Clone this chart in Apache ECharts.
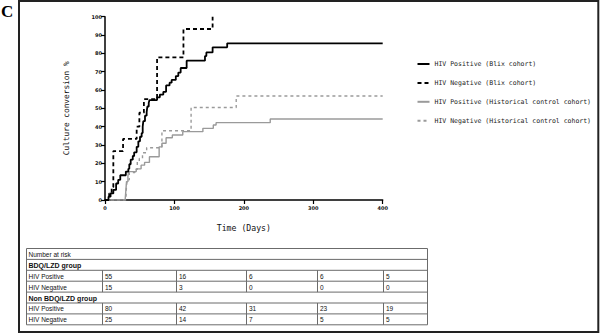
<!DOCTYPE html>
<html>
<head>
<meta charset="utf-8">
<script src="https://cdn.jsdelivr.net/npm/echarts@6/dist/echarts.min.js"></script>
<style>
  html, body { margin: 0; padding: 0; background: #fff; }
  #chart { width: 600px; height: 334px; }
</style>
</head>
<body>
<div id="chart"></div>
<script>
// [time in days, culture conversion %] - step points
const blixPositive = [[0, 0], [5, 1.8], [8, 3.6], [12, 5.5], [16, 9], [19, 11], [22, 13.5], [30, 15.5], [33.6, 17], [35, 19.5], [37, 22], [40, 24], [42, 26], [45.6, 29], [48, 32], [50.4, 34.5], [52.8, 36.5], [54.3, 40], [55.2, 43], [57.6, 46], [60, 48], [61, 51], [63, 53], [64, 54.5], [75, 56], [79, 57.5], [84, 59], [88, 62.5], [93, 64], [96, 65.5], [102, 67.6], [105.6, 69.5], [109, 72], [117.6, 76], [144, 78.5], [146, 80.5], [155, 83.3], [176, 85.5], [400, 85.5]];
const blixNegative = [[0, 0], [6, 3.6], [9.6, 7], [12, 26.7], [26, 33.3], [45.6, 40], [49.5, 47.6], [56, 55], [75, 77.8], [113, 93.3], [155, 100]];
const histPositive = [[0, 0], [29, 0], [30, 5], [31, 10], [33, 13], [34, 15.5], [45, 17], [52, 19], [57, 20.5], [64, 23.6], [78, 29], [82, 31], [88, 34], [97, 35.5], [112, 37.3], [141, 39.1], [156, 40.9], [160, 42.2], [238, 44.2], [400, 44.2]];
const histNegative = [[0, 0], [30, 0], [31, 8], [32, 11], [35, 15], [43, 16.7], [46.5, 21], [49.4, 22.7], [54, 25.8], [60, 28.5], [82, 37.8], [124, 50.5], [189, 56.7], [400, 56.7]];

const seriesNames = ['HIV Positive (Blix cohort)', 'HIV Negative (Blix cohort)', 'HIV Positive (Historical control cohort)', 'HIV Negative (Historical control cohort)'];

// number at risk table
const riskTitle = 'Number at risk';
const riskGroups = ['BDQ/LZD group', 'Non BDQ/LZD group'];
const riskLabels = ['HIV Positive', 'HIV Negative'];
const bdqRisk = [[55, 16, 6, 6, 5], [15, 3, 0, 0, 0]];
const nonBdqRisk = [[80, 42, 31, 23, 19], [25, 14, 7, 5, 5]];

const chart = echarts.init(document.getElementById('chart'), null, { renderer: 'svg' });

// --- table drawn with graphic elements ---
const colX = [26.5, 102.5, 176.5, 246.5, 317.5, 383.5, 427.5];
const rowTop = 248.5;
const rowH = 10.9;
const rows = [
  { kind: 'title', text: riskTitle },
  { kind: 'group', text: riskGroups[0] },
  { kind: 'cells', label: riskLabels[0], vals: bdqRisk[0] },
  { kind: 'cells', label: riskLabels[1], vals: bdqRisk[1] },
  { kind: 'group', text: riskGroups[1] },
  { kind: 'cells', label: riskLabels[0], vals: nonBdqRisk[0] },
  { kind: 'cells', label: riskLabels[1], vals: nonBdqRisk[1] }
];
const lineStyle = { stroke: '#6b6b6b', lineWidth: 1 };
const tableEls = [];
const tableBottom = rowTop + rowH * rows.length;
tableEls.push({ type: 'rect', shape: { x: colX[0], y: rowTop, width: colX[6] - colX[0], height: tableBottom - rowTop }, style: { fill: 'none', stroke: '#6b6b6b', lineWidth: 1 } });
rows.forEach((r, i) => {
  const y0 = rowTop + rowH * i;
  const yc = y0 + rowH / 2 + 0.5;
  if (i > 0) {
    tableEls.push({ type: 'line', shape: { x1: colX[0], y1: y0, x2: colX[6], y2: y0 }, style: lineStyle });
  }
  if (r.kind === 'cells') {
    for (let c = 1; c < 6; c++) {
      tableEls.push({ type: 'line', shape: { x1: colX[c], y1: y0, x2: colX[c], y2: y0 + rowH }, style: lineStyle });
    }
    tableEls.push({ type: 'text', x: colX[0] + 2, y: yc, style: { text: r.label, fontSize: 6.5, fontFamily: 'Liberation Sans', fill: '#111', verticalAlign: 'middle' } });
    r.vals.forEach((v, k) => {
      tableEls.push({ type: 'text', x: colX[k + 1] + 2.5, y: yc, style: { text: String(v), fontSize: 6.5, fontFamily: 'Liberation Sans', fill: '#111', verticalAlign: 'middle' } });
    });
  } else {
    tableEls.push({ type: 'text', x: colX[0] + 2, y: yc, style: { text: r.text, fontSize: r.kind === 'group' ? 7 : 6.5, fontWeight: r.kind === 'group' ? 'bold' : 'normal', fontFamily: 'Liberation Sans', fill: '#111', verticalAlign: 'middle' } });
  }
});

const tickFont = { fontSize: 5, fontWeight: 'bold', fontFamily: 'DejaVu Sans', color: '#111' };
// spaced-out look of the original labels: monospace gives the even letter pitch
const nameFont = 'DejaVu Sans Mono';

const option = {
  animation: false,
  grid: {
    left: 105,
    right: 217.3,
    top: 16.7,
    bottom: 134,
    outerBoundsMode: 'none'
  },
  legend: {
    data: seriesNames,
    orient: 'vertical',
    left: 416.5,
    top: 60.5,
    padding: 0,
    itemWidth: 12,
    itemHeight: 7,
    itemGap: 11.9,
    itemStyle: { opacity: 0 },
    textStyle: { fontSize: 6.5, fontFamily: nameFont, color: '#222', lineHeight: 7 }
  },
  xAxis: {
    type: 'value',
    min: 0,
    max: 400,
    interval: 100,
    name: 'Time (Days)',
    nameLocation: 'middle',
    nameGap: 24,
    nameTextStyle: { fontSize: 8.2, fontFamily: nameFont, color: '#111' },
    axisLine: { lineStyle: { color: '#000', width: 1.5 } },
    axisTick: { length: 4, lineStyle: { color: '#000', width: 1.2 } },
    axisLabel: Object.assign({ margin: 5 }, tickFont),
    splitLine: { show: false }
  },
  yAxis: {
    type: 'value',
    min: 0,
    max: 100,
    interval: 10,
    name: 'Culture conversion %',
    nameLocation: 'middle',
    nameGap: 35,
    nameTextStyle: { fontSize: 7.8, fontFamily: nameFont, color: '#111' },
    axisLine: { show: true, lineStyle: { color: '#000', width: 1.5 } },
    axisTick: { show: true, length: 4, lineStyle: { color: '#000', width: 1.2 } },
    axisLabel: Object.assign({ margin: 3 }, tickFont),
    splitLine: { show: false }
  },
  series: [
    {
      name: seriesNames[0], type: 'line', step: 'end', data: blixPositive, symbol: 'none',
      lineStyle: { color: '#000', width: 1.8 }, itemStyle: { color: '#000' }, z: 4
    },
    {
      name: seriesNames[1], type: 'line', step: 'end', data: blixNegative, symbol: 'none',
      lineStyle: { color: '#000', width: 1.8, type: [4, 3] }, itemStyle: { color: '#000' }, z: 3
    },
    {
      name: seriesNames[2], type: 'line', step: 'end', data: histPositive, symbol: 'none',
      lineStyle: { color: '#9a9a9a', width: 1.4 }, itemStyle: { color: '#9a9a9a' }, z: 2
    },
    {
      name: seriesNames[3], type: 'line', step: 'end', data: histNegative, symbol: 'none',
      lineStyle: { color: '#9a9a9a', width: 1.4, type: [3, 3] }, itemStyle: { color: '#9a9a9a' }, z: 1
    }
  ],
  graphic: [
    // outer frame and panel letter
    { type: 'rect', shape: { x: 19, y: 1, width: 579.3, height: 331 }, style: { fill: 'none', stroke: '#222', lineWidth: 2 } },
    { type: 'text', x: 1, y: 3, style: { text: 'C', fontSize: 17, fontWeight: 'bold', fontFamily: 'Liberation Serif', fill: '#000' } }
  ].concat(tableEls)
};

chart.setOption(option);
</script>
</body>
</html>
